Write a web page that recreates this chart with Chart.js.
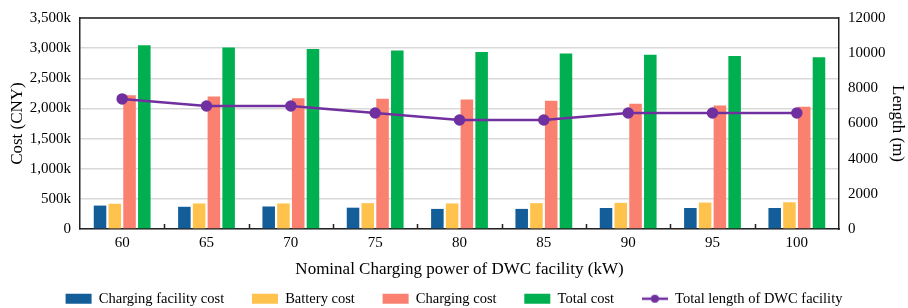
<!DOCTYPE html>
<html>
<head>
<meta charset="utf-8">
<script src="https://cdn.jsdelivr.net/npm/chart.js@4.4.0/dist/chart.umd.min.js"></script>
<style>
  html, body { margin: 0; padding: 0; background: #fff; }
  #wrap { width: 908px; height: 308px; }
</style>
</head>
<body>
<div id="wrap"><canvas id="chart"></canvas></div>
<script>
// values (costs in CNY, length in m)
const powers = ['60', '65', '70', '75', '80', '85', '90', '95', '100'];
const facilityCost = [390000, 370000, 375000, 355000, 335000, 335000, 350000, 350000, 350000];
const batteryCost = [420000, 425000, 425000, 430000, 425000, 430000, 435000, 440000, 445000];
const chargingCost = [2220000, 2200000, 2170000, 2160000, 2150000, 2130000, 2080000, 2050000, 2030000];
const totalCost = [3050000, 3010000, 2985000, 2960000, 2935000, 2910000, 2890000, 2870000, 2850000];
const dwcLength = [7400, 7000, 7000, 6600, 6200, 6200, 6600, 6600, 6600];

const FONT = 'Liberation Serif';

// little line + dot icon for the legend
function lineIcon(color) {
    const c = document.createElement('canvas');
    c.width = 26; c.height = 10;
    const g = c.getContext('2d');
    g.strokeStyle = color; g.lineWidth = 2.5;
    g.beginPath(); g.moveTo(0, 5); g.lineTo(26, 5); g.stroke();
    g.fillStyle = color;
    g.beginPath(); g.arc(13, 5, 4, 0, Math.PI * 2); g.fill();
    return c;
}

// frame on top + small inward ticks between categories
const framePlugin = {
    id: 'frame',
    afterDatasetsDraw(chart) {
        const { ctx, chartArea: a, scales } = chart;
        ctx.save();
        ctx.strokeStyle = '#222';
        ctx.lineWidth = 1.5;
        ctx.beginPath();
        ctx.moveTo(a.left, a.top); ctx.lineTo(a.right, a.top);
        for (let i = 1; i < powers.length; i++) {
            const x = Math.round(scales.x.getPixelForValue(i - 0.5)) + 0.5;
            ctx.moveTo(x, a.bottom); ctx.lineTo(x, a.bottom - 5);
        }
        ctx.stroke();
        ctx.restore();
    }
};

function bar(label, data, color) {
    return {
        type: 'bar', label, data, yAxisID: 'y',
        backgroundColor: color, borderWidth: 0,
        categoryPercentage: 0.7, barPercentage: 0.85, order: 2
    };
}

const gap = '      ';

new Chart(document.getElementById('chart'), {
    data: {
        labels: powers,
        datasets: [
            bar('Charging facility cost', facilityCost, '#135e99'),
            bar('Battery cost', batteryCost, '#ffc24d'),
            bar('Charging cost', chargingCost, '#fa8070'),
            bar('Total cost', totalCost, '#00b050'),
            {
                type: 'line', label: 'Total length of DWC facility', data: dwcLength, yAxisID: 'y2',
                borderColor: '#7030a0', backgroundColor: '#7030a0', borderWidth: 2.5,
                pointRadius: 4.5, pointHoverRadius: 4.5, tension: 0, order: 1
            }
        ]
    },
    options: {
        responsive: true,
        maintainAspectRatio: false,
        animation: false,
        layout: { padding: { top: 4, bottom: -8, left: 0, right: 0 } },
        plugins: {
            tooltip: { enabled: false },
            legend: {
                position: 'bottom',
                labels: {
                    font: { family: FONT, size: 14.5 }, color: '#000',
                    boxWidth: 26, boxHeight: 10, padding: 6,
                    usePointStyle: true, pointStyleWidth: 26,
                    generateLabels(chart) {
                        const n = chart.data.datasets.length;
                        return chart.data.datasets.map((ds, i) => ({
                            text: ds.label + (i < n - 1 ? gap : ''),
                            fillStyle: ds.type === 'line' ? ds.borderColor : ds.backgroundColor,
                            strokeStyle: ds.type === 'line' ? ds.borderColor : ds.backgroundColor,
                            lineWidth: 0,
                            pointStyle: ds.type === 'line' ? lineIcon(ds.borderColor) : 'rect',
                            datasetIndex: i,
                            fontColor: '#000'
                        }));
                    }
                }
            }
        },
        scales: {
            x: {
                offset: true,
                grid: { display: false, drawTicks: false },
                border: { color: '#222', width: 1.5 },
                ticks: { font: { family: FONT, size: 15 }, color: '#000', padding: 5 },
                title: { display: true, text: 'Nominal Charging power of DWC facility (kW)', font: { family: FONT, size: 17 }, color: '#000', padding: { top: 2, bottom: 6 } }
            },
            y: {
                position: 'left', min: 0, max: 3500000,
                afterFit(s) { s.width = 80; },
                grid: { color: '#d9d9d9', lineWidth: 1.5, drawTicks: false },
                border: { color: '#222', width: 1.5 },
                ticks: {
                    stepSize: 500000, padding: 9, color: '#000', font: { family: FONT, size: 15 },
                    callback: v => v === 0 ? '0' : (v / 1000).toLocaleString('en-US') + 'k'
                },
                title: { display: true, text: 'Cost (CNY)', font: { family: FONT, size: 17 }, color: '#000', padding: { top: 7, bottom: 0 } }
            },
            y2: {
                position: 'right', min: 0, max: 12000,
                afterFit(s) { s.width = 69; },
                grid: { drawOnChartArea: false, drawTicks: false },
                border: { color: '#222', width: 1.5 },
                ticks: { stepSize: 2000, padding: 9, color: '#000', font: { family: FONT, size: 15 }, callback: v => String(v) },
                title: { display: true, text: 'Length (m)', font: { family: FONT, size: 17 }, color: '#000', padding: 0 }
            }
        }
    },
    plugins: [framePlugin]
});
</script>
</body>
</html>
